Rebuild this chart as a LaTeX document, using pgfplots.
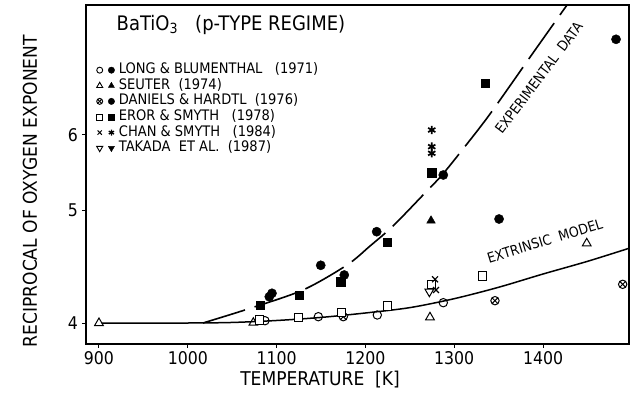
\documentclass[border=0pt]{standalone}
\usepackage{fontspec}
\setmainfont{DejaVu Sans Condensed}
\usepackage{pgfplots}
\pgfplotsset{compat=1.18}
\begin{document}
\begin{tikzpicture}
\begin{axis}[
  at={(0pt,0pt)}, anchor=south west,
  scale only axis, width=543pt, height=339pt,
  xmin=885.4, xmax=1496.8,
  ymin=-0.25929, ymax=-0.10929,
  y filter/.expression={-1/y},
  xtick={900,1000,1100,1200,1300,1400},
  ytick={-0.25,-0.2,-0.1666667}, yticklabels={4,5,6},
  xtick pos=bottom, ytick pos=left,
  tick align=outside, major tick length=4pt,
  axis line style={line width=1.4pt},
  every tick/.style={line width=1pt, black},
  /pgf/number format/assume math mode=true,
  /pgf/number format/1000 sep={},
  tick label style={font=\fontsize{17.5}{17.5}\selectfont},
  xticklabel style={inner sep=0pt, anchor=north, yshift=-3pt},
  yticklabel style={inner sep=0pt, anchor=east, xshift=-4pt},
  xlabel={TEMPERATURE\ \ [K]},
  ylabel={RECIPROCAL OF OXYGEN EXPONENT},
  xlabel style={at={(axis description cs:0.431,0)}, anchor=north, yshift=-27pt, inner sep=0pt, font=\fontsize{19}{19}\selectfont},
  ylabel style={at={(axis description cs:-0.103,0.451)}, anchor=center, inner sep=0pt, font=\fontsize{19}{19}\selectfont},
  legend style={at={(axis description cs:0.0193,0.829)}, anchor=north west, draw=none, fill=none, inner sep=0pt,
    font=\fontsize{14.5}{14.5}\selectfont, row sep=1.6pt,
    nodes={inner sep=0pt, text height=10.5pt, text depth=3.5pt}},
  legend cell align=left,
]
% extrinsic model (solid)
\addplot[black, line width=1.5pt, smooth, forget plot] coordinates {
 (903,4.000) (1000,4.000) (1050,4.004) (1100,4.018) (1150,4.040) (1200,4.072)
 (1250,4.112) (1300,4.180) (1350,4.270) (1400,4.380) (1450,4.490) (1497,4.610)};
% experimental data (dashed)
\addplot[black, line width=1.6pt, smooth, dash pattern=on 44pt off 10pt, forget plot] coordinates {
 (1017.1,4.000) (1067.8,4.1016) (1129.7,4.2482) (1179.3,4.4576) (1205.2,4.6311)
 (1231.1,4.8290) (1267.1,5.1954) (1286.3,5.4197) (1309.9,5.7801) (1340.3,6.3483)
 (1388.7,7.6610) (1427.0,9.1498) (1436.0,9.576)};
% Long & Blumenthal
\addplot[only marks, mark=o, mark size=4.2pt, mark options={fill=white, line width=1pt}, forget plot] coordinates {
 (1086.9,4.0164) (1147.0,4.0451) (1213.4,4.0575) (1287.7,4.1491)};
\addplot[only marks, mark=*, mark size=4.6pt, forget plot] coordinates {
 (1091.8,4.195) (1094.8,4.222) (1149.7,4.455) (1176.2,4.3713) (1212.7,4.7709) (1287.7,5.4197)};
% Seuter
\addplot[only marks, mark=triangle, mark size=5pt, mark options={fill=white, line width=1pt}, forget plot] coordinates {
 (900,4.000) (1073.8,4.002) (1272.7,4.0408) (1449.2,4.6569)};
\addplot[only marks, mark=triangle*, mark size=5pt, forget plot] coordinates {
 (1273.9,4.8844)};
% Daniels & Hardtl
\addplot[only marks, mark=otimes*, mark size=4.2pt, mark options={fill=white, line width=1pt}, forget plot] coordinates {
 (1175.1,4.0451) (1345.9,4.1644) (1489.7,4.2941)};
\addplot[only marks, mark=*, mark size=4.6pt, forget plot] coordinates {
 (1350.5,4.9024) (1482.2,8.0342)};
% Eror & Smyth
\addplot[only marks, mark=square*, mark size=4.2pt, mark options={fill=white, line width=1pt}, forget plot] coordinates {
 (1080.5,4.0213) (1124.4,4.0408) (1173.3,4.0743) (1224.7,4.1241) (1274.7,4.2941) (1331.6,4.3629)};
\addplot[only marks, mark=square*, mark size=4.2pt, forget plot] coordinates {
 (1081.3,4.1316) (1125.2,4.2086) (1172.2,4.3154) (1224.7,4.6665) (1274.7,5.4497) (1334.7,6.9474)};
% Chan & Smyth
\addplot[only marks, mark=x, mark size=4.2pt, mark options={line width=1.2pt}, forget plot] coordinates {
 (1278.4,4.3353) (1279.5,4.2482)};
\addplot[only marks, mark=asterisk, mark size=4.2pt, mark options={line width=1.7pt}, forget plot] coordinates {
 (1274.7,6.0753) (1274.7,5.8143) (1274.7,5.7172)};
% Takada et al.
\addplot[only marks, mark=triangle*, mark size=5pt, mark options={fill=white, line width=1pt, rotate=180}, forget plot] coordinates {
 (1272.0,4.2346)};
% legend
\addlegendimage{legend image code/.code={
  \draw[black, line width=0.9pt] plot[only marks, mark=o, mark size=3pt] coordinates {(0pt,0pt)};
  \draw[black] plot[only marks, mark=*, mark size=3.2pt] coordinates {(11.7pt,0pt)};
  \path (19pt,0pt);}}
\addlegendentry{LONG \& BLUMENTHAL\ \ \ (1971)}
\addlegendimage{legend image code/.code={
  \draw[black, line width=0.9pt] plot[only marks, mark=triangle, mark size=3.5pt] coordinates {(0pt,0pt)};
  \draw[black] plot[only marks, mark=triangle*, mark size=3.5pt] coordinates {(11.7pt,0pt)};
  \path (19pt,0pt);}}
\addlegendentry{SEUTER\ \ (1974)}
\addlegendimage{legend image code/.code={
  \draw[black, line width=0.9pt] plot[only marks, mark=otimes, mark size=3pt] coordinates {(0pt,0pt)};
  \draw[black] plot[only marks, mark=*, mark size=3.2pt] coordinates {(11.7pt,0pt)};
  \path (19pt,0pt);}}
\addlegendentry{DANIELS \& HARDTL\ \ (1976)}
\addlegendimage{legend image code/.code={
  \draw[black, line width=0.9pt] plot[only marks, mark=square, mark size=3pt] coordinates {(0pt,0pt)};
  \draw[black] plot[only marks, mark=square*, mark size=3pt] coordinates {(11.7pt,0pt)};
  \path (19pt,0pt);}}
\addlegendentry{EROR \& SMYTH\ \ \ (1978)}
\addlegendimage{legend image code/.code={
  \draw[black, line width=1pt] plot[only marks, mark=x, mark size=3pt] coordinates {(0pt,0pt)};
  \draw[black, line width=1.3pt] plot[only marks, mark=asterisk, mark size=3pt] coordinates {(11.7pt,0pt)};
  \path (19pt,0pt);}}
\addlegendentry{CHAN \& SMYTH\ \ \ (1984)}
\addlegendimage{legend image code/.code={
  \draw[black, line width=0.9pt] plot[only marks, mark=triangle, mark size=3.5pt, mark options={rotate=180}] coordinates {(0pt,0pt)};
  \draw[black] plot[only marks, mark=triangle*, mark size=3.5pt, mark options={rotate=180}] coordinates {(11.7pt,0pt)};
  \path (19pt,0pt);}}
\addlegendentry{TAKADA\ \ ET AL.\ \ (1987)}
% annotations
\node[font=\fontsize{20}{20}\selectfont, anchor=center] at (rel axis cs:0.267,0.941) {BaTiO\textsubscript{3}\ \ \ (p-TYPE REGIME)};
\node[font=\fontsize{14}{14}\selectfont, rotate=53, anchor=center] at (rel axis cs:0.834,0.785) {EXPERIMENTAL\ \ DATA};
\node[font=\fontsize{14}{14}\selectfont, rotate=17, anchor=center] at (rel axis cs:0.845,0.304) {EXTRINSIC\ \ MODEL};
\end{axis}
\pgfresetboundingbox
\path (-86pt,-54pt) rectangle (548pt,344pt);
\end{tikzpicture}
\end{document}
